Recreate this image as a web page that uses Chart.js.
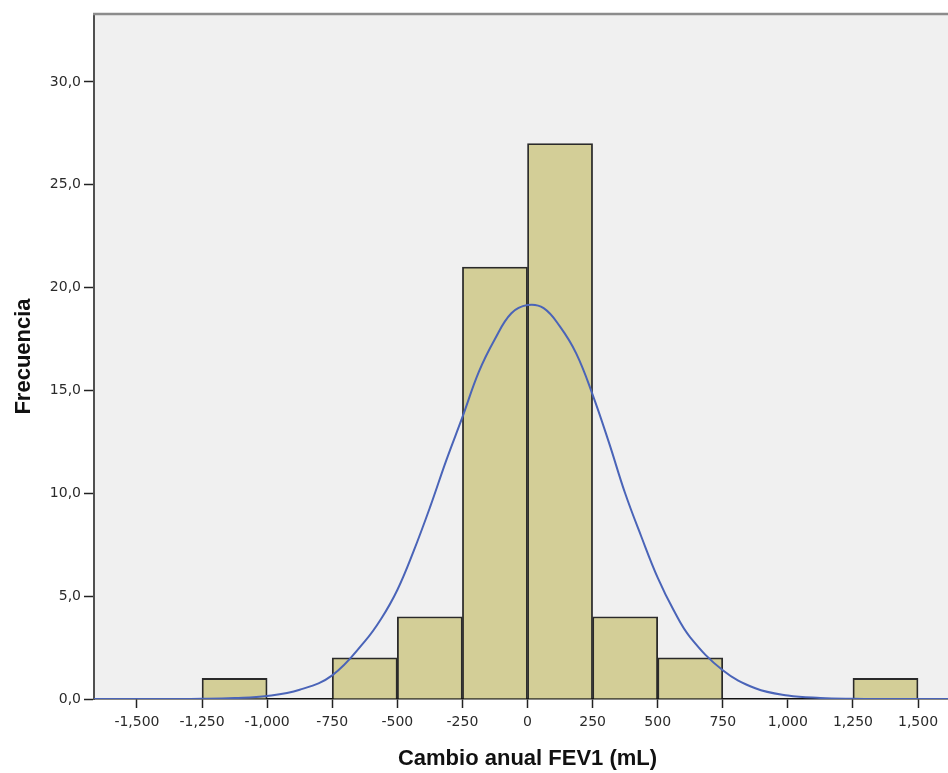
<!DOCTYPE html>
<html>
<head>
<meta charset="utf-8">
<script src="https://cdn.jsdelivr.net/npm/chart.js@4.4.1/dist/chart.umd.min.js"></script>
<style>
  html, body { margin: 0; padding: 0; background: #fff; overflow: hidden; }
  canvas { display: block; }
</style>
</head>
<body>
<canvas id="hist" width="961" height="773"></canvas>
<script>
// Histogram bins (centre of each 250 mL bin) and counts
const binCenters = [-1125, -875, -625, -375, -125, 125, 375, 625, 875, 1125, 1375];
const binCounts = [1, 0, 2, 4, 21, 27, 4, 2, 0, 0, 1];

// Normal curve
const curveX = [-1665, -1500, -1375, -1250, -1125, -1000, -875, -750, -625, -562, -500, -437, -375, -312, -250, -187, -125, -62, 0, 62, 125, 187, 250, 312, 375, 437, 500, 562, 625, 750, 875, 1000, 1125, 1250, 1375, 1500, 1665];
const curveY = [0, 0, 0, 0.01, 0.05, 0.15, 0.45, 1.15, 2.8, 3.9, 5.3, 7.2, 9.3, 11.6, 13.7, 15.9, 17.5, 18.75, 19.15, 19.0, 18.1, 16.8, 14.8, 12.5, 10.0, 7.9, 5.9, 4.3, 3.0, 1.4, 0.52, 0.17, 0.05, 0.01, 0, 0, 0];

// Axis ticks
const xTicks = [-1500, -1250, -1000, -750, -500, -250, 0, 250, 500, 750, 1000, 1250, 1500];
const yTicks = [0, 5, 10, 15, 20, 25, 30];

const xTitle = "Cambio anual FEV1 (mL)";
const yTitle = "Frecuencia";

// Plot background and top frame line
const plotFrame = {
    id: "plotFrame",
    beforeDraw(chart) {
        const a = chart.chartArea;
        const ctx = chart.ctx;
        ctx.save();
        ctx.fillStyle = "#f0f0f0";
        ctx.fillRect(a.left, a.top, a.right - a.left, a.bottom - a.top);
        ctx.restore();
    },
    afterDraw(chart) {
        const a = chart.chartArea;
        const ctx = chart.ctx;
        ctx.save();
        ctx.strokeStyle = "#8c8c8c";
        ctx.lineWidth = 2.5;
        ctx.beginPath();
        ctx.moveTo(a.left - 1, a.top);
        ctx.lineTo(a.right, a.top);
        ctx.stroke();
        ctx.restore();
    }
};

const tickFont = { family: "'DejaVu Sans', sans-serif", size: 14 };
const titleFont = { family: "'Liberation Sans', Arial, sans-serif", size: 22, weight: "bold" };

new Chart(document.getElementById("hist"), {
    type: "bar",
    data: {
        datasets: [
            {
                type: "line",
                data: curveX.map((x, i) => ({ x: x, y: curveY[i] })),
                borderColor: "#4a64b8",
                borderWidth: 2,
                pointRadius: 0,
                tension: 0.4,
                fill: false,
                order: 0
            },
            {
                type: "bar",
                data: binCenters.map((x, i) => ({ x: x, y: binCounts[i] })),
                backgroundColor: "#d3ce97",
                borderColor: "#2a2a2a",
                borderWidth: 1.8,
                barPercentage: 1,
                categoryPercentage: 1,
                grouped: false,
                order: 1
            }
        ]
    },
    options: {
        responsive: false,
        devicePixelRatio: 1,
        animation: false,
        layout: { padding: { top: 14, left: 0, right: 0, bottom: 0 } },
        plugins: {
            legend: { display: false },
            tooltip: { enabled: false }
        },
        scales: {
            x: {
                type: "linear",
                min: -1665,
                max: 1665,
                offset: false,
                afterFit: scale => { scale.height = 74; },
                afterBuildTicks: scale => { scale.ticks = xTicks.map(v => ({ value: v })); },
                grid: { offset: false, drawOnChartArea: false, drawTicks: true, tickLength: 9, tickColor: "#222", tickWidth: 1.5 },
                border: { display: true, color: "#111", width: 1.5 },
                ticks: {
                    color: "#2a2a2a",
                    font: tickFont,
                    padding: 6,
                    maxRotation: 0,
                    autoSkip: false,
                    callback: v => v.toLocaleString("en-US")
                },
                title: { display: true, text: xTitle, color: "#111", font: titleFont, padding: { top: 0, bottom: 1 } }
            },
            y: {
                min: 0,
                max: 33.3,
                afterFit: scale => { scale.width = 94; },
                afterBuildTicks: scale => { scale.ticks = yTicks.map(v => ({ value: v })); },
                grid: { drawOnChartArea: false, drawTicks: true, tickLength: 10, tickColor: "#222", tickWidth: 1.5 },
                border: { display: true, color: "#505050", width: 2 },
                ticks: {
                    color: "#2a2a2a",
                    font: tickFont,
                    padding: 3,
                    callback: v => v.toFixed(1).replace(".", ",")
                },
                title: { display: true, text: yTitle, color: "#111", font: titleFont, padding: { top: 11, bottom: 0 } }
            }
        }
    },
    plugins: [plotFrame]
});
</script>
</body>
</html>
